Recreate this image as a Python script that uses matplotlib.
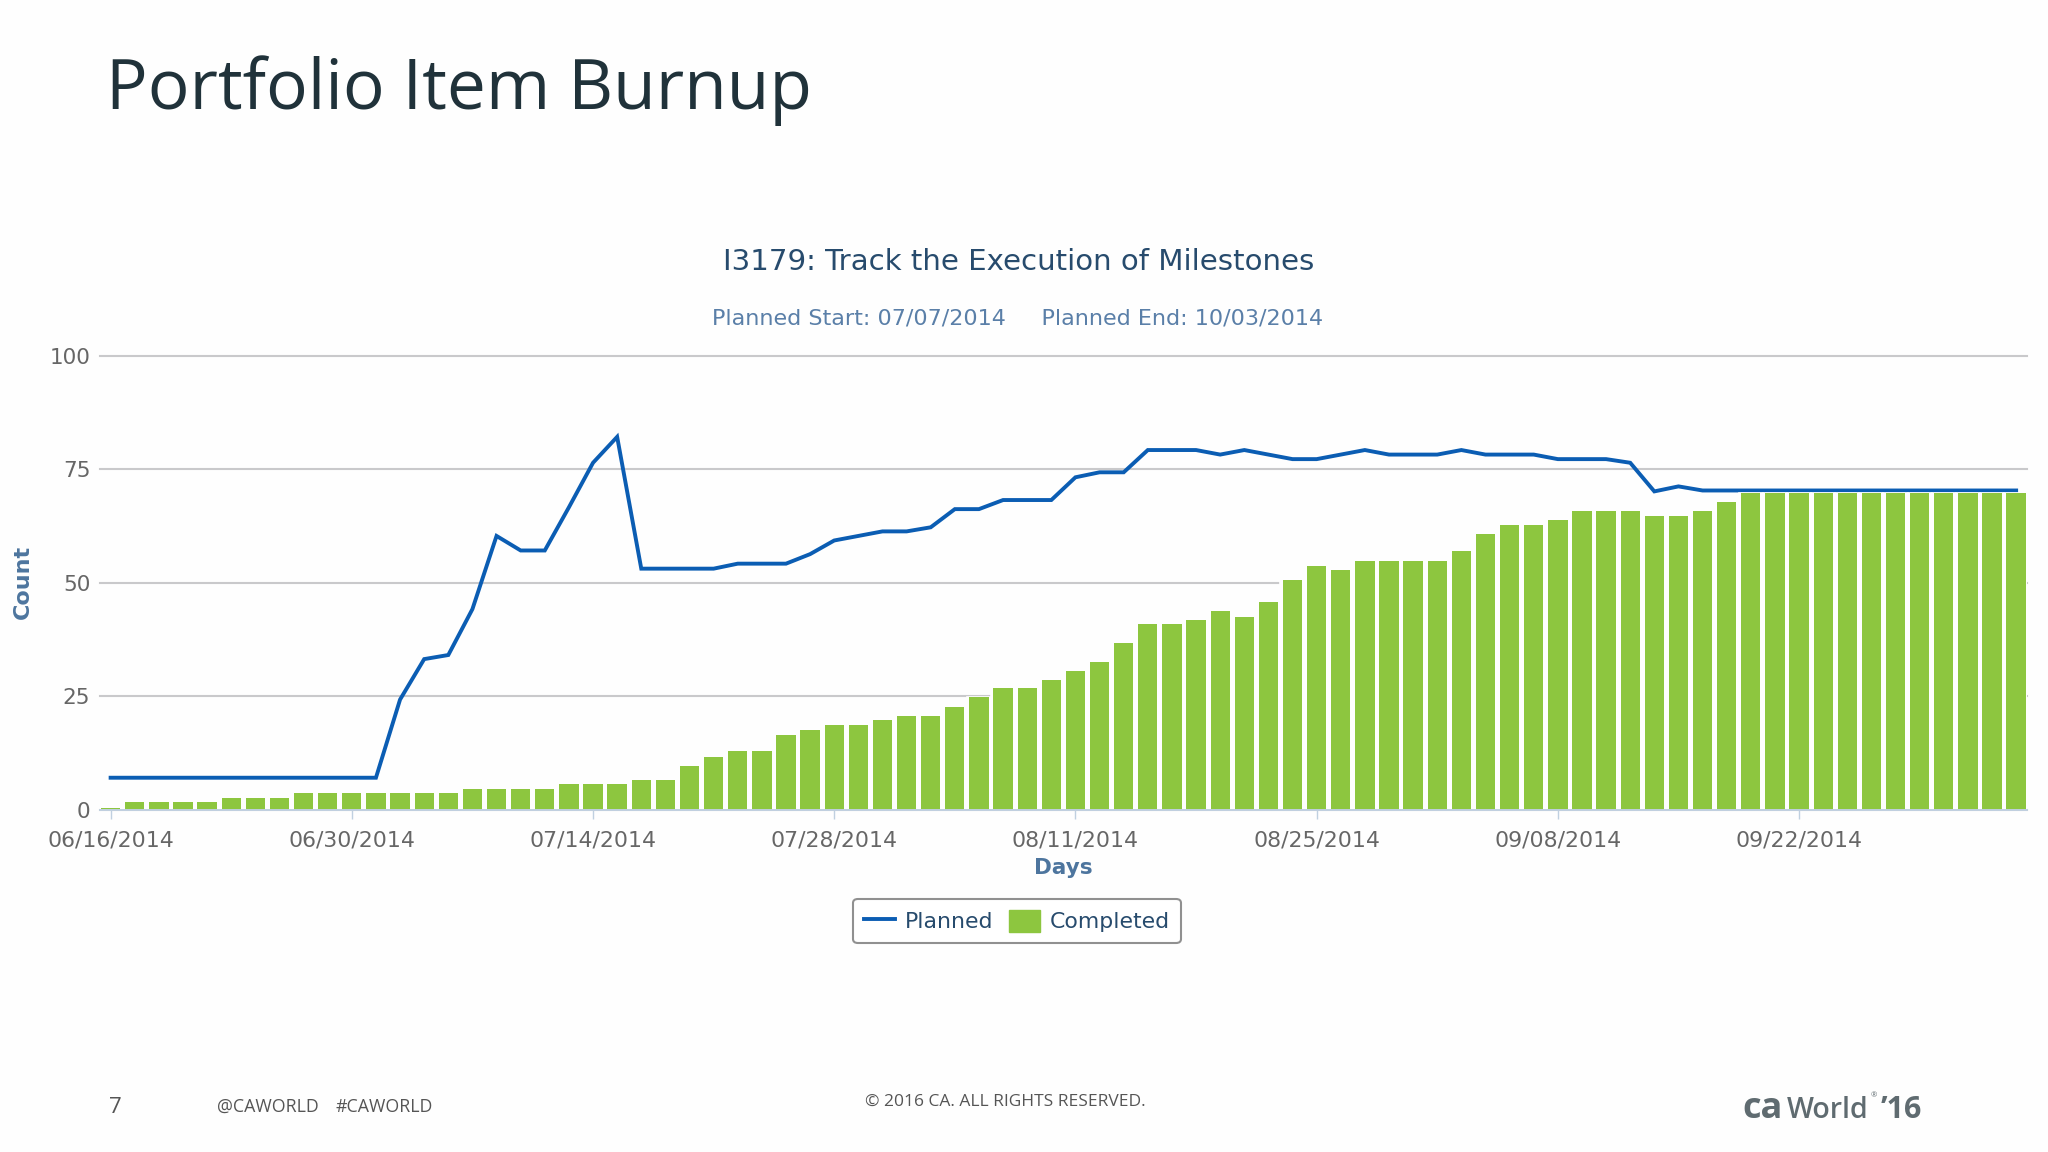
import numpy as np
import matplotlib
matplotlib.use('Agg')
import matplotlib.pyplot as plt
from matplotlib.lines import Line2D
from matplotlib.patches import Patch

W, H = 2048, 1152
BG = '#FEFEFE'

# working days only, one bar per day from 06/16/2014 to 10/03/2014
completed = [0.5, 1.8, 1.8, 1.8, 1.8, 2.6, 2.6, 2.6, 3.8, 3.8,
             3.8, 3.8, 3.8, 3.8, 3.8, 4.6, 4.6, 4.6, 4.6, 5.8,
             5.8, 5.8, 6.7, 6.7, 9.6, 11.6, 12.9, 12.9, 16.6, 17.7,
             18.6, 18.6, 19.9, 20.7, 20.7, 22.7, 24.8, 26.8, 26.8, 28.5,
             30.6, 32.6, 36.8, 40.9, 40.9, 41.7, 43.7, 42.5, 45.8, 50.7,
             53.6, 52.8, 54.8, 54.8, 54.8, 54.8, 56.9, 60.7, 62.7, 62.7,
             63.9, 65.7, 65.7, 65.7, 64.7, 64.7, 65.7, 67.7, 69.8, 69.8,
             69.8, 69.8, 69.8, 69.8, 69.8, 69.8, 69.8, 69.8, 69.8, 69.8]
planned = [7.1, 7.1, 7.1, 7.1, 7.1, 7.1, 7.1, 7.1, 7.1, 7.1,
           7.1, 7.1, 24.3, 33.2, 34.1, 44.2, 60.3, 57.1, 57.1, 66.6,
           76.4, 82.1, 53.1, 53.1, 53.1, 53.1, 54.2, 54.2, 54.2, 56.3,
           59.3, 60.3, 61.3, 61.3, 62.2, 66.2, 66.2, 68.2, 68.2, 68.2,
           73.2, 74.3, 74.3, 79.2, 79.2, 79.2, 78.2, 79.2, 78.2, 77.2,
           77.2, 78.2, 79.2, 78.2, 78.2, 78.2, 79.2, 78.2, 78.2, 78.2,
           77.2, 77.2, 77.2, 76.4, 70.1, 71.2, 70.3, 70.3, 70.3, 70.3,
           70.3, 70.3, 70.3, 70.3, 70.3, 70.3, 70.3, 70.3, 70.3, 70.3]
tick_labels = ['06/16/2014', '06/30/2014', '07/14/2014', '07/28/2014',
               '08/11/2014', '08/25/2014', '09/08/2014', '09/22/2014']
y_ticks = [0, 25, 50, 75, 100]


def put(x, y, s, **kw):
    # place text by reference pixel position
    return fig.text(x / W, 1 - y / H, s, **kw)


fig = plt.figure(figsize=(W / 100, H / 100), dpi=100, facecolor=BG)
ax = fig.add_axes([100 / W, 1 - 810 / H, (2027 - 100) / W, (810 - 355.5) / H], facecolor=BG)

days = np.arange(len(completed))
ax.plot(days, planned, color='#0B5DB3', lw=2.8, zorder=3, solid_joinstyle='miter')
# white layer hides the grid lines in the gaps between bars
ax.bar(days, completed, width=1.0, color=BG, edgecolor=BG, lw=1.2, zorder=4)
ax.bar(days, completed, width=0.8, color='#8DC63F', zorder=5)

ax.set_xlim(-0.44, 79.45)
ax.set_ylim(0, 100)
ax.set_yticks(y_ticks)
ax.set_xticks(days[::10])
ax.set_xticklabels(tick_labels)
ax.grid(axis='y', color='#C9C9CB', lw=1.5, zorder=1, clip_on=False)
ax.set_axisbelow(True)
for name in ['top', 'right', 'left']:
    ax.spines[name].set_visible(False)
ax.spines['bottom'].set_color('#C0D0E0')
ax.spines['bottom'].set_linewidth(1.4)
ax.spines['bottom'].set_zorder(6)
ax.tick_params(axis='x', length=6.5, width=1, color='#C0D0E0', pad=8, labelsize=15.8, labelcolor='#666666')
ax.tick_params(axis='y', length=0, pad=7, labelsize=15.5, labelcolor='#666666')

put(106, 109, 'Portfolio Item Burnup', family='Open Sans', fontsize=50, color='#20323A')
put(1019, 270.5, 'I3179: Track the Execution of Milestones', ha='center', fontsize=21.1, color='#274B6D')
put(1018, 325, 'Planned Start: 07/07/2014     Planned End: 10/03/2014', ha='center', fontsize=16, color='#5A7FA8')
put(23, 582, 'Count', rotation=90, ha='center', va='center', fontsize=16, fontweight='bold', color='#4D759E')
put(1063, 868, 'Days', ha='center', va='center', fontsize=15.5, fontweight='bold', color='#4D759E')

handles = [Line2D([], [], color='#0B5DB3', lw=2.8), Patch(facecolor='#8DC63F', edgecolor='#8DC63F')]
leg = fig.legend(handles, ['Planned', 'Completed'], ncol=2, loc='center',
                 bbox_to_anchor=(1017 / W, 1 - 921 / H), fontsize=15.8, labelcolor='#274B6D',
                 handlelength=1.4, handleheight=1.2, handletextpad=0.45, columnspacing=0.7,
                 borderpad=0.5, borderaxespad=0, frameon=True, fancybox=True, facecolor='white', edgecolor='#909090')
leg.get_frame().set_linewidth(1.5)
leg.get_frame().set_alpha(1)

put(109, 1113, '7', family='Open Sans', fontsize=16, color='#555555')
put(217.5, 1112, '@CAWORLD', family='Open Sans', fontsize=12.8, color='#555555')
put(336, 1112, '#CAWORLD', family='Open Sans', fontsize=12.8, color='#555555')
put(1005, 1106, '© 2016 CA. ALL RIGHTS RESERVED.', ha='center', family='Open Sans', fontsize=12.5, color='#555555')

put(1742, 1118, 'ca', family='Open Sans', fontsize=26, fontweight='bold', color='#5F6B70')
put(1787, 1118, 'World', family='Open Sans', fontsize=20.5, fontweight='semibold', color='#5F6B70')
put(1871, 1097, '®', family='Open Sans', fontsize=5.5, color='#5F6B70')
put(1881, 1118, '’16', family='Open Sans', fontsize=22, fontweight='bold', color='#5F6B70')

fig.savefig('out.png', dpi=100, facecolor=BG)
